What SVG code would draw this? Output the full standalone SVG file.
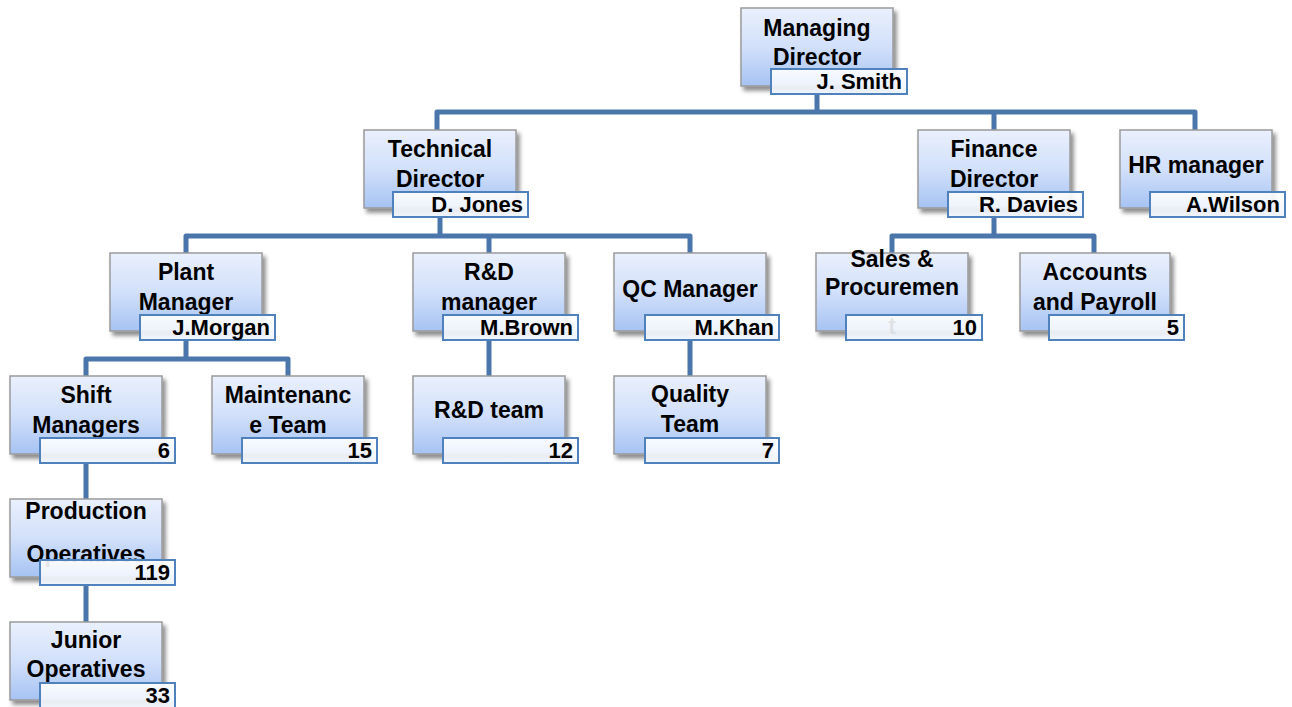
<svg xmlns="http://www.w3.org/2000/svg" width="1292" height="707" viewBox="0 0 1292 707">
<defs>
<linearGradient id="gBox" x1="0" y1="0" x2="0" y2="1">
<stop offset="0" stop-color="#eaf0fd"/>
<stop offset="0.5" stop-color="#d2e0fa"/>
<stop offset="1" stop-color="#a6c3f3"/>
</linearGradient>
<linearGradient id="gLab" x1="0" y1="0" x2="0" y2="1">
<stop offset="0" stop-color="#ffffff"/>
<stop offset="1" stop-color="#eef3fc"/>
</linearGradient>
<filter id="sh" x="-10%" y="-10%" width="130%" height="130%">
<feDropShadow dx="3" dy="4" stdDeviation="2" flood-color="#000" flood-opacity="0.45"/>
</filter>
</defs>
<style>
.box{fill:url(#gBox);stroke:#9a9a9a;stroke-width:1.5;filter:url(#sh)}
.lab{fill:url(#gLab);fill-opacity:0.9;stroke:#4f81bd;stroke-width:2}
.t{font-family:"Liberation Sans",Arial,sans-serif;font-weight:bold;font-size:23px;text-anchor:middle;fill:#000}
.l{font-family:"Liberation Sans",Arial,sans-serif;font-weight:bold;font-size:22px;text-anchor:end;fill:#000}
.c{fill:none;stroke:#4a76ab;stroke-width:5;stroke-linejoin:round}
</style>
<rect width="1292" height="707" fill="#fff"/>
<g id="connectors">
<path class="c" d="M817 94V112M437 130V112H1195V130M994 112V130"/>
<path class="c" d="M440 217V236M186 253V236H690V253M489 236V253"/>
<path class="c" d="M994 217V236M892 253V236H1094V253"/>
<path class="c" d="M186 340V359M86 376V359H288V376"/>
<path class="c" d="M489 340V376"/>
<path class="c" d="M690 340V376"/>
<path class="c" d="M86 463V499"/>
<path class="c" d="M86 585V622"/>
</g>
<g id="md">
<rect class="box" x="741" y="8" width="152" height="78"/>
<text class="t" x="817" y="36">Managing</text>
<text class="t" x="817" y="65">Director</text>
<rect class="lab" x="771" y="69" width="136" height="25"/>
<text class="l" x="902" y="89">J. Smith</text>
</g>
<g id="td">
<rect class="box" x="364" y="130" width="152" height="78"/>
<text class="t" x="440" y="157">Technical</text>
<text class="t" x="440" y="187">Director</text>
<rect class="lab" x="393" y="192" width="135" height="25"/>
<text class="l" x="523" y="212">D. Jones</text>
</g>
<g id="fd">
<rect class="box" x="918" y="130" width="152" height="78"/>
<text class="t" x="994" y="157">Finance</text>
<text class="t" x="994" y="187">Director</text>
<rect class="lab" x="948" y="192" width="135" height="25"/>
<text class="l" x="1078" y="212">R. Davies</text>
</g>
<g id="hr">
<rect class="box" x="1120" y="130" width="152" height="78"/>
<text class="t" x="1196" y="173">HR manager</text>
<rect class="lab" x="1150" y="192" width="135" height="25"/>
<text class="l" x="1280" y="212">A.Wilson</text>
</g>
<g id="pm">
<rect class="box" x="110" y="253" width="152" height="78"/>
<text class="t" x="186" y="280">Plant</text>
<text class="t" x="186" y="310">Manager</text>
<rect class="lab" x="140" y="315" width="135" height="25"/>
<text class="l" x="270" y="335">J.Morgan</text>
</g>
<g id="rdm">
<rect class="box" x="413" y="253" width="152" height="78"/>
<text class="t" x="489" y="280">R&amp;D</text>
<text class="t" x="489" y="310">manager</text>
<rect class="lab" x="443" y="315" width="135" height="25"/>
<text class="l" x="573" y="335">M.Brown</text>
</g>
<g id="qcm">
<rect class="box" x="614" y="253" width="152" height="78"/>
<text class="t" x="690" y="297">QC Manager</text>
<rect class="lab" x="645" y="315" width="134" height="25"/>
<text class="l" x="774" y="335">M.Khan</text>
</g>
<g id="sales">
<rect class="box" x="816" y="253" width="152" height="78"/>
<text class="t" x="892" y="267">Sales &amp;</text>
<text class="t" x="892" y="295">Procuremen</text>
<text class="t" x="892" y="334">t</text>
<rect class="lab" x="846" y="315" width="136" height="25"/>
<text class="l" x="977" y="335">10</text>
</g>
<g id="acc">
<rect class="box" x="1020" y="253" width="150" height="78"/>
<text class="t" x="1095" y="280">Accounts</text>
<text class="t" x="1095" y="310">and Payroll</text>
<rect class="lab" x="1049" y="315" width="135" height="25"/>
<text class="l" x="1179" y="335">5</text>
</g>
<g id="shift">
<rect class="box" x="10" y="376" width="152" height="78"/>
<text class="t" x="86" y="403">Shift</text>
<text class="t" x="86" y="433">Managers</text>
<rect class="lab" x="40" y="438" width="135" height="25"/>
<text class="l" x="170" y="458">6</text>
</g>
<g id="maint">
<rect class="box" x="212" y="376" width="152" height="78"/>
<text class="t" x="288" y="403">Maintenanc</text>
<text class="t" x="288" y="433">e Team</text>
<rect class="lab" x="242" y="438" width="135" height="25"/>
<text class="l" x="372" y="458">15</text>
</g>
<g id="rdt">
<rect class="box" x="413" y="376" width="152" height="78"/>
<text class="t" x="489" y="418">R&amp;D team</text>
<rect class="lab" x="443" y="438" width="135" height="25"/>
<text class="l" x="573" y="458">12</text>
</g>
<g id="qt">
<rect class="box" x="614" y="376" width="152" height="78"/>
<text class="t" x="690" y="402">Quality</text>
<text class="t" x="690" y="432">Team</text>
<rect class="lab" x="645" y="438" width="134" height="25"/>
<text class="l" x="774" y="458">7</text>
</g>
<g id="prod">
<rect class="box" x="10" y="499" width="152" height="78"/>
<text class="t" x="86" y="519">Production</text>
<text class="t" x="86" y="562">Operatives</text>
<rect class="lab" x="40" y="560" width="135" height="25"/>
<text class="l" x="170" y="580">119</text>
</g>
<g id="jun">
<rect class="box" x="10" y="622" width="152" height="78"/>
<text class="t" x="86" y="648">Junior</text>
<text class="t" x="86" y="677">Operatives</text>
<rect class="lab" x="40" y="683" width="135" height="25"/>
<text class="l" x="170" y="703">33</text>
</g>
</svg>
